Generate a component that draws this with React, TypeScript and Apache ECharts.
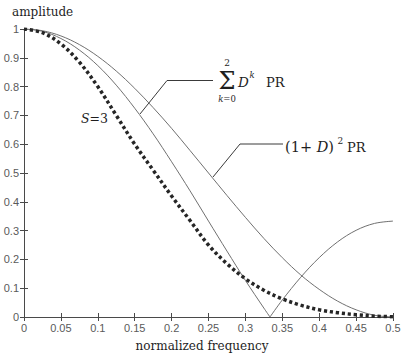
import React, { useEffect, useRef } from "react";
import * as echarts from "echarts";

// normalized frequency sample points
const freq = [0, 0.025, 0.05, 0.075, 0.1, 0.125, 0.15, 0.175, 0.2, 0.225, 0.25, 0.275, 0.3, 0.325, 0.35, 0.375, 0.4, 0.425, 0.45, 0.475, 0.5];
// (1+D)^2 PR amplitude
const amp1D2 = [1, 0.994, 0.976, 0.946, 0.905, 0.854, 0.794, 0.727, 0.655, 0.578, 0.5, 0.422, 0.346, 0.273, 0.206, 0.146, 0.096, 0.055, 0.025, 0.006, 0];
// sum_{k=0}^{2} D^k PR amplitude, falling branch then rising branch
const sumFreqLow = [0, 0.025, 0.05, 0.075, 0.1, 0.125, 0.15, 0.175, 0.2, 0.225, 0.25, 0.275, 0.3, 0.325, 0.3333];
const sumAmpLow = [1, 0.992, 0.967, 0.927, 0.873, 0.805, 0.725, 0.636, 0.539, 0.438, 0.333, 0.229, 0.127, 0.031, 0];
const sumFreqHigh = [0.3333, 0.35, 0.375, 0.4, 0.425, 0.45, 0.475, 0.5];
const sumAmpHigh = [0, 0.059, 0.138, 0.206, 0.261, 0.301, 0.325, 0.333];
// S=3 (dotted)
const ampS3 = [1, 0.987, 0.948, 0.885, 0.8, 0.7, 0.6, 0.51, 0.42, 0.335, 0.25, 0.185, 0.133, 0.093, 0.063, 0.041, 0.025, 0.015, 0.008, 0.003, 0.001];

const xTickLabels = ["0", "0.05", "0.1", "0.15", "0.2", "0.25", "0.3", "0.35", "0.4", "0.45", "0.5"];
const yTickLabels = ["0", "0.1", "0.2", "0.3", "0.4", "0.5", "0.6", "0.7", "0.8", "0.9", "1"];

const SERIF = "DejaVu Serif";
const SANS = "Liberation Sans, Arial, Roboto, sans-serif";
const AXIS_COLOR = "#4a4a4a";
const CURVE_COLOR = "#707070";
const TEXT_COLOR = "#1e1e1e";

function zip(xs: number[], ys: number[]) {
  return xs.map((x, i) => [x, ys[i]]);
}

export default function App() {
  const ref = useRef<HTMLDivElement>(null);

  useEffect(() => {
    if (!ref.current) return;
    const chart = echarts.init(ref.current, undefined, { renderer: "svg" });

    const axisCommon = {
      type: "value" as const,
      axisLine: { show: true, lineStyle: { color: AXIS_COLOR, width: 1 } },
      axisTick: { show: true, inside: true, length: 4, lineStyle: { color: AXIS_COLOR } },
      splitLine: { show: false },
    };

    const thin = (data: number[][]) => ({
      type: "line" as const,
      data,
      smooth: 0.35,
      showSymbol: false,
      symbol: "none",
      silent: true,
      lineStyle: { color: CURVE_COLOR, width: 1 },
    });

    const t = (text: string, x: number, y: number, size: number, opts: any = {}) => ({
      type: "text",
      x,
      y,
      silent: true,
      style: {
        text,
        fontFamily: SERIF,
        fontSize: size,
        fontStyle: opts.italic ? "italic" : "normal",
        lineHeight: opts.lineHeight || size,
        fill: TEXT_COLOR,
        align: opts.align || "left",
        verticalAlign: "middle",
      },
    });

    const leader = (pts: number[][]) => ({
      type: "polyline",
      silent: true,
      shape: { points: pts },
      style: { stroke: "#3a3a3a", lineWidth: 1, fill: "none" },
    });

    chart.setOption({
      animation: false,
      backgroundColor: "#ffffff",
      grid: { left: 24, right: 11, top: 29, bottom: 42 },
      xAxis: [
        {
          ...axisCommon,
          position: "bottom",
          min: 0,
          max: 0.5,
          interval: 0.05,
          axisLabel: {
            color: "#5a5a5a",
            fontFamily: SANS,
            fontSize: 11,
            margin: 5,
            formatter: (v: number) => xTickLabels[Math.round(v / 0.05)] ?? "",
          },
        },
        {
          ...axisCommon,
          position: "top",
          min: 0,
          max: 0.5,
          interval: 0.05,
          axisLabel: { show: false },
        },
      ],
      yAxis: [
        {
          ...axisCommon,
          position: "left",
          min: 0,
          max: 1,
          interval: 0.1,
          axisLabel: {
            color: "#5a5a5a",
            fontFamily: SANS,
            fontSize: 11,
            margin: 5,
            formatter: (v: number) => yTickLabels[Math.round(v / 0.1)] ?? "",
          },
        },
        {
          ...axisCommon,
          position: "right",
          min: 0,
          max: 1,
          interval: 0.1,
          axisLabel: { show: false },
        },
      ],
      series: [
        thin(zip(freq, amp1D2)),
        thin(zip(sumFreqLow, sumAmpLow)),
        thin(zip(sumFreqHigh, sumAmpHigh)),
        {
          type: "line",
          data: zip(freq, ampS3),
          smooth: 0.35,
          showSymbol: false,
          symbol: "none",
          silent: true,
          lineStyle: { color: "#262626", width: 3.5, type: [3.2, 2.8], cap: "butt" },
        },
      ],
      graphic: [
        t("amplitude", 12, 12, 12),
        t("normalized frequency", 202, 346, 12, { align: "center" }),
        {
          type: "text",
          x: 81,
          y: 118,
          silent: true,
          style: {
            text: "{i|S}{n|=3}",
            fill: TEXT_COLOR,
            verticalAlign: "middle",
            rich: {
              i: { fontFamily: SERIF, fontSize: 12.5, fontStyle: "italic", fill: TEXT_COLOR },
              n: { fontFamily: SERIF, fontSize: 12.5, fill: TEXT_COLOR },
            },
          },
        },
        leader([[140, 114], [167, 80.5], [213, 80.5]]),
        t("Σ", 227, 81, 24, { align: "center", lineHeight: 18 }),
        t("2", 227, 63, 9, { align: "center" }),
        {
          type: "text",
          x: 227,
          y: 99,
          silent: true,
          style: {
            text: "{i|k}{n|=0}",
            align: "center",
            verticalAlign: "middle",
            rich: {
              i: { fontFamily: SERIF, fontSize: 8.5, fontStyle: "italic", fill: TEXT_COLOR, lineHeight: 9 },
              n: { fontFamily: SERIF, fontSize: 8.5, fill: TEXT_COLOR, lineHeight: 9 },
            },
          },
        },
        t("D", 238, 82, 13.5, { italic: true }),
        t("k", 249.5, 75, 8.5, { italic: true, lineHeight: 8 }),
        t("PR", 266, 82, 13),
        leader([[213, 177], [240, 144], [283, 144]]),
        {
          type: "text",
          x: 285,
          y: 147,
          silent: true,
          style: {
            text: "{n|(1+ }{i|D}{n|)}",
            verticalAlign: "middle",
            rich: {
              i: { fontFamily: SERIF, fontSize: 14.5, fontStyle: "italic", fill: TEXT_COLOR },
              n: { fontFamily: SERIF, fontSize: 14.5, fill: TEXT_COLOR },
            },
          },
        },
        t("2", 337.5, 141, 9),
        t("PR", 347, 147.5, 13),
      ],
    });

    return () => chart.dispose();
  }, []);

  return (
    <div
      ref={ref}
      style={{ position: "fixed", left: 0, top: 0, width: 404, height: 359, background: "#fff" }}
    />
  );
}
